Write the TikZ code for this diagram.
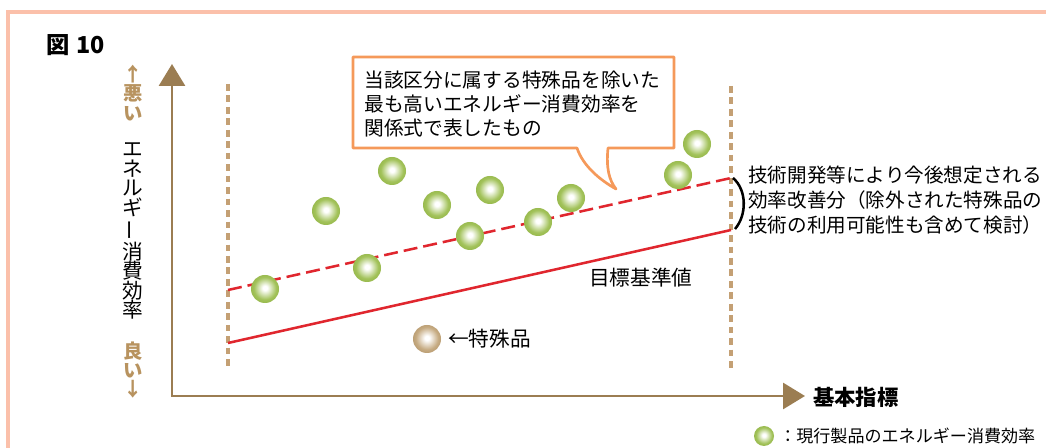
\documentclass[tikz,border=0pt]{standalone}
\usepackage{fontspec}
\setmainfont{Noto Sans CJK JP}
\usetikzlibrary{arrows.meta}
\definecolor{framepink}{HTML}{FBC0AA}
\definecolor{axisbrown}{HTML}{9B7D52}
\definecolor{dottan}{HTML}{C4A074}
\definecolor{labeltan}{HTML}{B8935F}
\definecolor{linered}{HTML}{E0262E}
\definecolor{calloutorange}{HTML}{F5995A}
\definecolor{gmid}{HTML}{A2C25A}
\definecolor{gedge}{HTML}{7FA42E}
\definecolor{bmid}{HTML}{C6AB82}
\definecolor{bedge}{HTML}{9F7F50}
\pgfdeclareradialshading{greenball}{\pgfpoint{0bp}{2bp}}{color(0bp)=(white); color(4bp)=(white); color(20bp)=(gmid); color(40bp)=(gedge); color(50bp)=(gedge)}
\pgfdeclareradialshading{brownball}{\pgfpoint{0bp}{2bp}}{color(0bp)=(white); color(4bp)=(white); color(20bp)=(bmid); color(40bp)=(bedge); color(50bp)=(bedge)}
\tikzset{
  gball/.style={circle, inner sep=0pt, minimum size=21pt, shading=greenball},
  bball/.style={circle, inner sep=0pt, minimum size=21pt, shading=brownball},
  axisline/.style={draw=axisbrown, line width=2.2pt},
  guide/.style={draw=dottan, line width=3pt, dash pattern=on 5pt off 3.6pt},
  redsolid/.style={draw=linered, line width=1.9pt},
  reddash/.style={draw=linered, line width=1.9pt, dash pattern=on 10.5pt off 4.5pt},
  txt/.style={inner sep=0pt, anchor=west, text=black},
  vlab/.style={inner sep=0pt, align=center, font=\fontsize{15.5pt}{14.6pt}\selectfont},
}
\begin{document}
\begin{tikzpicture}[x=0.75pt, y=-0.75pt]
\useasboundingbox (0,0) rectangle (1046,448);
\fill[white] (0,0) rectangle (1046,448);
\clip (0,0) rectangle (1046,448);
% frame
\draw[framepink, line width=3pt] (8,12) rectangle (1080,480);
% title
\node[txt, font=\fontsize{17.5pt}{20pt}\selectfont\bfseries] (title) at (46,45) {図\hspace{5pt}10};
% guides
\coordinate (gl1) at (228,84);
\coordinate (gl2) at (228,370);
\coordinate (gr1) at (731,86);
\coordinate (gr2) at (731,370);
\draw[guide] (gl1) -- (gl2);
\draw[guide] (gr1) -- (gr2);
% axes
\coordinate (O) at (172,396);
\coordinate (Ytip) at (172,64);
\coordinate (Xtip) at (805,396);
\draw[axisline, {Triangle[length=16.5pt, width=19.5pt]}-{Triangle[length=16.5pt, width=19.5pt]}] (Ytip) -- (O) -- (Xtip);
\node[txt, font=\fontsize{16pt}{18pt}\selectfont\bfseries] (xlab) at (813,397) {基本指標};
% vertical labels
\node[vlab, text=labeltan, font=\fontsize{14.5pt}{14.6pt}\selectfont\bfseries] (bad) at (133,93) {↑\\悪\\い};
\node[vlab, text=labeltan, font=\fontsize{14.5pt}{14.6pt}\selectfont\bfseries] (good) at (133,370) {良\\い\\↓};
\node[vlab] (ylab) at (133,231) {エ\\ネ\\ル\\ギ\\\rotatebox[origin=c]{90}{ー}\\消\\費\\効\\率};
% lines
\coordinate (d1) at (228,290);
\coordinate (d2) at (731,178);
\coordinate (s1) at (228,343);
\coordinate (s2) at (731,230);
\draw[reddash] (d1) -- (d2);
\draw[redsolid] (s1) -- (s2);
% spheres
\node[gball] (g1) at (265,289) {};
\node[gball] (g2) at (326,211) {};
\node[gball] (g3) at (392,171) {};
\node[gball] (g4) at (367,268) {};
\node[gball] (g5) at (437,205) {};
\node[gball] (g6) at (490,190) {};
\node[gball] (g7) at (470,236) {};
\node[gball] (g8) at (538,222) {};
\node[gball] (g9) at (571,198) {};
\node[gball] (g10) at (678,175) {};
\node[gball] (g11) at (697,144) {};
\node[bball] (sp) at (427,339) {};
\node[txt, font=\fontsize{15.5pt}{18pt}\selectfont] (splab) at (448,339) {←特殊品};
\node[txt, font=\fontsize{15.5pt}{18pt}\selectfont] (stdlab) at (589,278) {目標基準値};
% callout
\draw[calloutorange, line width=2pt, fill=white, line join=round]
  (353,57) -- (674,57) -- (674,148) -- (608,148)
  .. controls (606,168) and (609,180) .. (616,189)
  .. controls (600,180) and (583,166) .. (577,148)
  -- (353,148) -- cycle;
\node[txt, align=left, font=\fontsize{14.8pt}{18pt}\selectfont] (callout) at (364,104) {当該区分に属する特殊品を除いた\\最も高いエネルギー消費効率を\\関係式で表したもの};
% bracket
\coordinate (b1) at (733,178);
\coordinate (b2) at (735,229);
\draw[black, line width=1.9pt] (b1) .. controls (747,190) and (747,215) .. (b2);
\node[txt, align=left, font=\fontsize{14.7pt}{18.75pt}\selectfont] (improve) at (748,200) {技術開発等により今後想定される\\効率改善分（除外された特殊品の\\技術の利用可能性も含めて検討）};
% legend
\node[gball, minimum size=15pt] (lg) at (764,436) {};
\node[txt, font=\fontsize{12.8pt}{16pt}\selectfont] (lglab) at (779,436) {：現行製品のエネルギー消費効率};
\end{tikzpicture}
\end{document}
